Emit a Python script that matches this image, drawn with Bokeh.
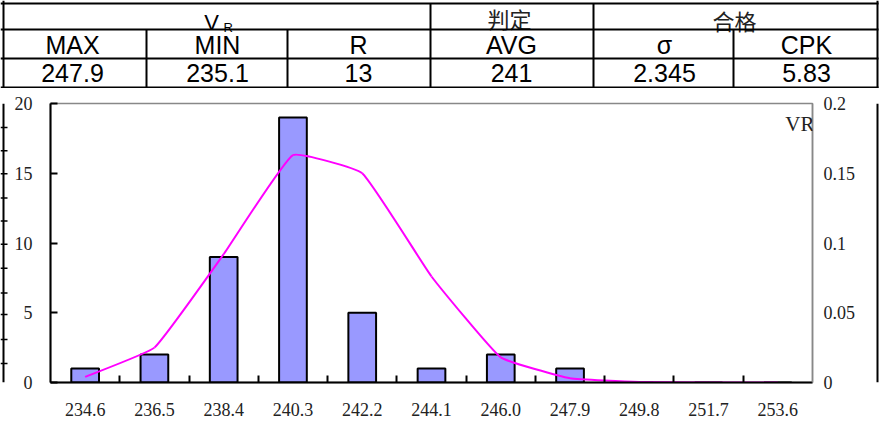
import math
from bokeh.plotting import figure
from bokeh.layouts import column, row
from bokeh.models import Range1d, LinearAxis, FixedTicker, CustomJSTickFormatter, Label
from bokeh.core.properties import value
from bokeh.embed import file_html
from bokeh.resources import INLINE

# ---------------- data ----------------
bins = ["234.6", "236.5", "238.4", "240.3", "242.2", "244.1",
        "246.0", "247.9", "249.8", "251.7", "253.6"]
counts = [1, 2, 9, 19, 5, 1, 2, 1, 0, 0, 0]
density = [0.004, 0.025, 0.092, 0.163, 0.150, 0.076, 0.018, 0.003, 0.0003, 0.0, 0.0]
left_ticks = [0, 5, 10, 15, 20]
right_ticks = [0, 0.05, 0.1, 0.15, 0.2]
series_name = "VR"

header_main = "V"
header_sub = "R"
judge_label = "判定"
judge_result = "合格"
stat_names = ["MAX", "MIN", "R", "AVG", "σ", "CPK"]
stat_values = ["247.9", "235.1", "13", "241", "2.345", "5.83"]

SANS = value("Liberation Sans")
CJK = value("Noto Sans CJK SC")


def neg(vals):
    return [-v for v in vals]


# ---------------- table (page coordinates, y negated) ----------------
tbl = figure(width=889, height=88, x_range=Range1d(0, 889), y_range=Range1d(-88, 0),
             output_backend="svg", toolbar_location=None, min_border=0,
             x_axis_type=None, y_axis_type=None, outline_line_color=None)

col_centers = [72, 217, 358, 511, 664, 806]
tbl.text(x=[211], y=neg([21.5]), text=[header_main], text_align="center", text_baseline="middle",
         text_font=SANS, text_font_size="22px", text_color="black")
tbl.text(x=[223], y=neg([27]), text=[header_sub], text_align="left", text_baseline="middle",
         text_font=SANS, text_font_size="13px", text_color="black")
tbl.text(x=[509, 734], y=neg([17.5, 19]), text=[judge_label, judge_result], text_align="center",
         text_baseline="middle", text_font=CJK, text_font_size="22px", text_color="#222222")
tbl.text(x=col_centers, y=neg([44] * 6), text=stat_names, text_align="center", text_baseline="middle",
         text_font=SANS, text_font_size="25px", text_color="black")
tbl.text(x=col_centers, y=neg([72.5] * 6), text=stat_values, text_align="center", text_baseline="middle",
         text_font=SANS, text_font_size="25px", text_color="black")

hy = [3, 29, 58, 87]
tbl.segment(x0=[0] * 4, y0=neg(hy), x1=[878] * 4, y1=neg(hy), line_width=2, line_color="black")
vx = [3, 146, 287, 430, 593, 733, 877]
vy0 = [0, 29, 29, 3, 3, 29, 0]
vy1 = [88, 87, 87, 87, 87, 87, 88]
tbl.segment(x0=vx, y0=neg(vy0), x1=vx, y1=neg(vy1), line_width=2, line_color="black")

# ---------------- chart ----------------
n = len(bins)
xs = list(range(n))
ch = figure(width=867, height=337, x_range=Range1d(-0.5, n - 0.5), y_range=Range1d(0, 20),
            output_backend="svg", toolbar_location=None, x_axis_type=None, y_axis_type=None,
            min_border_left=42, min_border_right=63, min_border_top=15, min_border_bottom=43,
            outline_line_color="#888888", outline_line_width=1.5)
ch.extra_y_ranges = {"pdf": Range1d(0, 0.2)}

xaxis = LinearAxis(ticker=FixedTicker(ticks=xs, minor_ticks=[i + 0.5 for i in range(n - 1)]),
                   major_label_overrides={i: b for i, b in enumerate(bins)})
xaxis.axis_line_width = 2
xaxis.axis_line_color = "black"
xaxis.major_tick_line_color = None
xaxis.major_tick_in = 0
xaxis.major_tick_out = 0
xaxis.minor_tick_line_color = "black"
xaxis.minor_tick_line_width = 2
xaxis.minor_tick_in = 7
xaxis.minor_tick_out = 0
xaxis.major_label_standoff = 20
xaxis.major_label_text_font = "Liberation Serif"
xaxis.major_label_text_font_size = "18px"
xaxis.major_label_text_color = "#222222"
ch.add_layout(xaxis, "below")

yaxis = LinearAxis(ticker=FixedTicker(ticks=left_ticks, minor_ticks=[]))
yaxis.axis_line_width = 2
yaxis.axis_line_color = "black"
yaxis.major_tick_line_color = "black"
yaxis.major_tick_line_width = 2
yaxis.major_tick_in = 7
yaxis.major_tick_out = 0
yaxis.minor_tick_line_color = None
yaxis.major_label_standoff = 18
yaxis.major_label_text_font = "Liberation Serif"
yaxis.major_label_text_font_size = "18px"
yaxis.major_label_text_color = "#222222"
ch.add_layout(yaxis, "left")

raxis = LinearAxis(y_range_name="pdf", ticker=FixedTicker(ticks=right_ticks, minor_ticks=[]),
                   formatter=CustomJSTickFormatter(code="return String(Math.round(tick*100)/100);"))
raxis.axis_line_color = "#888888"
raxis.axis_line_width = 1.5
raxis.major_tick_line_color = None
raxis.major_tick_in = 0
raxis.major_tick_out = 0
raxis.minor_tick_line_color = None
raxis.major_label_standoff = 11
raxis.major_label_text_font = "Liberation Serif"
raxis.major_label_text_font_size = "18px"
raxis.major_label_text_color = "#222222"
ch.add_layout(raxis, "right")

ch.vbar(x=xs, top=counts, width=0.4, bottom=0, fill_color="#9999FF",
        line_color="black", line_width=2)

# smoothed (Excel-like) curve through the density points
frame_w, frame_h = 762.0, 279.0
sx = frame_w / n
sy = frame_h / 0.2
k = 0.11


def dist(a, b):
    return math.hypot((b[0] - a[0]) * sx, (b[1] - a[1]) * sy)


P = list(zip(xs, density))
x0, y0, x1, y1, cx0, cy0, cx1, cy1 = [], [], [], [], [], [], [], []
for i in range(n - 1):
    pm = P[i - 1] if i > 0 else P[i]
    p1 = P[i]
    p2 = P[i + 1]
    p3 = P[i + 2] if i + 2 < n else P[i + 1]
    d01, d12, d23 = dist(pm, p1), dist(p1, p2), dist(p2, p3)
    w_out = d12 / (d01 + d12) if d01 + d12 > 0 else 0.5
    w_in = d12 / (d12 + d23) if d12 + d23 > 0 else 0.5
    x0.append(p1[0]); y0.append(p1[1]); x1.append(p2[0]); y1.append(p2[1])
    cx0.append(p1[0] + k * w_out * (p2[0] - pm[0]))
    cy0.append(p1[1] + k * w_out * (p2[1] - pm[1]))
    cx1.append(p2[0] - k * w_in * (p3[0] - p1[0]))
    cy1.append(p2[1] - k * w_in * (p3[1] - p1[1]))
ch.bezier(x0=x0, y0=y0, x1=x1, y1=y1, cx0=cx0, cy0=cy0, cx1=cx1, cy1=cy1,
          y_range_name="pdf", line_color="#FF00FF", line_width=2)

ch.add_layout(Label(x=n - 0.5, y=20, text=series_name, text_align="right", text_baseline="top",
                    x_offset=2, y_offset=-8, text_font="Liberation Serif", text_font_size="21px",
                    text_color="#222222"))

# ---------------- sheet borders ----------------
ls = figure(width=8, height=337, x_range=Range1d(0, 8), y_range=Range1d(-425, -88),
            output_backend="svg", toolbar_location=None, min_border=0,
            x_axis_type=None, y_axis_type=None, outline_line_color=None)
ls.segment(x0=[3], y0=[-88], x1=[3], y1=[-425], line_width=2, line_color="black")
row_lines = [117, 145, 173, 202, 230, 258, 287, 317, 343, 373, 402]
ls.segment(x0=[0] * len(row_lines), y0=neg(row_lines), x1=[7] * len(row_lines), y1=neg(row_lines),
           line_width=1.5, line_color="black")

rs = figure(width=14, height=337, x_range=Range1d(875, 889), y_range=Range1d(-425, -88),
            output_backend="svg", toolbar_location=None, min_border=0,
            x_axis_type=None, y_axis_type=None, outline_line_color=None)
rs.segment(x0=[877], y0=[-88], x1=[877], y1=[-425], line_width=2, line_color="black")

layout = column(tbl, row(ls, ch, rs))
open("out.html", "w").write(file_html(layout, INLINE))
